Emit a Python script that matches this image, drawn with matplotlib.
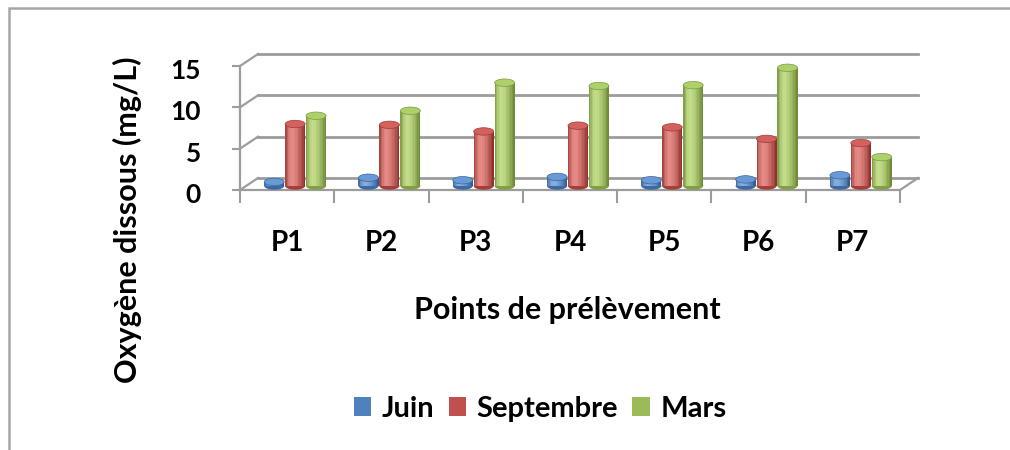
import matplotlib
matplotlib.use('Agg')
import matplotlib.pyplot as plt
import matplotlib.transforms as mtrans
from matplotlib.patches import Ellipse, Patch, Rectangle
from matplotlib.lines import Line2D
import numpy as np

categories = ['P1', 'P2', 'P3', 'P4', 'P5', 'P6', 'P7']
series_names = ['Juin', 'Septembre', 'Mars']
juin = [0.5, 1.0, 0.7, 1.1, 0.7, 0.8, 1.3]
septembre = [7.5, 7.4, 6.6, 7.3, 7.1, 5.7, 5.2]
mars = [8.5, 9.1, 12.5, 12.1, 12.2, 14.3, 3.5]
y_ticks = [0, 5, 10, 15]
x_label = 'Points de prélèvement'
y_label = 'Oxygène dissous (mg/L)'

series = [juin, septembre, mars]
base_colors = ['#4F81BD', '#C0504D', '#9BBB59']
dark_colors = ['#2a5488', '#8a2a27', '#67842f']
light_colors = ['#86aee0', '#e58a86', '#c3dc8a']
top_colors = ['#6a9ad6', '#d3615d', '#add06b']

FONT = ['Lato', 'DejaVu Sans']
plt.rcParams['font.family'] = FONT
plt.rcParams['font.weight'] = 'bold'

W, H = 1010, 450
fig = plt.figure(figsize=(W / 100, H / 100), dpi=100)
fig.patch.set_facecolor('white')

# outer chart border (only left and top visible)
fig.patches.append(Rectangle((9 / W, -0.2), 1.2, 1.2 - 8 / H, transform=fig.transFigure,
                             fill=False, edgecolor='#a6a6a6', linewidth=1.8))

ax = fig.add_axes([240 / W, 260 / H, 660 / W, 124 / H])
ax.set_xlim(-0.5, len(categories) - 0.5)
ax.set_ylim(0, 15)
ax.patch.set_visible(False)

grid_col = '#9c9c9c'
for s in ['top', 'right']:
    ax.spines[s].set_visible(False)
for s in ['left', 'bottom']:
    ax.spines[s].set_color(grid_col)
    ax.spines[s].set_linewidth(1.6)

back = mtrans.offset_copy(ax.transData, fig=fig, x=18, y=12, units='dots')
mid = mtrans.offset_copy(ax.transData, fig=fig, x=8, y=4, units='dots')

x0, x1 = -0.5, len(categories) - 0.5
# back wall gridlines
for yv in y_ticks:
    ax.plot([x0, x1], [yv, yv], color=grid_col, lw=2.0, transform=back, clip_on=False, zorder=1)

# left wall / floor diagonals
def diag(x, y):
    p0 = ax.transData.transform((x, y))
    p1 = back.transform((x, y))
    ax.add_line(Line2D([p0[0], p1[0]], [p0[1], p1[1]], color=grid_col, lw=1.6,
                       transform=mtrans.IdentityTransform(), clip_on=False, zorder=1))

for yv in y_ticks:
    diag(x0, yv)
diag(x1, 0)

# cylinders
n_series = len(series)
bw = 0.212
spacing = 0.222
nslice = 14
ell_h = 0.9

def mix(c1, c2, t):
    a = np.array(matplotlib.colors.to_rgb(c1))
    b = np.array(matplotlib.colors.to_rgb(c2))
    return tuple(a + (b - a) * t)

xs = np.arange(len(categories))
for si, vals in enumerate(series):
    off = (si - (n_series - 1) / 2) * spacing
    for ci, v in enumerate(vals):
        xc = xs[ci] + off
        ax.add_patch(Ellipse((xc, 0), bw, ell_h, transform=mid,
                             facecolor=mix(dark_colors[si], base_colors[si], 0.5),
                             edgecolor='none', clip_on=False, zorder=3))
        edges = np.linspace(xc - bw / 2, xc + bw / 2, nslice + 1)
        centers = (edges[:-1] + edges[1:]) / 2
        for k, xk in enumerate(centers):
            t = (k + 0.5) / nslice
            if t < 0.35:
                f = 1 - ((0.35 - t) / 0.35) ** 2 * 0.85
            else:
                f = 1 - ((t - 0.35) / 0.65) ** 1.6
            col = mix(dark_colors[si], light_colors[si], max(0, min(1, f)))
            ax.bar([xk], [v], width=bw / nslice * 1.05, color=col, linewidth=0,
                   transform=mid, clip_on=False, zorder=4)
        ax.add_patch(Ellipse((xc, v), bw, ell_h, transform=mid, facecolor=top_colors[si],
                             edgecolor=mix(dark_colors[si], base_colors[si], 0.4), linewidth=0.5,
                             clip_on=False, zorder=5))

# ticks and labels
ax.set_yticks(y_ticks)
ax.set_yticklabels([str(t) for t in y_ticks], fontsize=19, fontweight='bold')
ax.tick_params(axis='y', length=6, width=1.5, color=grid_col, pad=22)
for lab in ax.get_yticklabels():
    lab.set_transform(lab.get_transform() + mtrans.ScaledTranslation(0, -3 / 100, fig.dpi_scale_trans))
ax.set_xticks(xs)
ax.set_xticklabels(categories, fontsize=20, fontweight='bold')
ax.tick_params(axis='x', which='major', length=0, pad=29)
ax.set_xticks(np.arange(x0, x1 + 0.01, 1.0), minor=True)
ax.tick_params(axis='x', which='minor', length=9, width=1.5, color=grid_col)

fig.text(567 / W, 1 - 310 / H, x_label, fontsize=22, fontweight='bold', ha='center', va='center')
fig.text(127 / W, 1 - 220 / H, y_label, fontsize=22, fontweight='bold', ha='center', va='center',
         rotation=90)

handles = [Patch(facecolor=c, edgecolor='none') for c in base_colors]
fig.legend(handles, series_names, loc='center', bbox_to_anchor=(540 / W, 1 - 409 / H),
           ncol=3, frameon=False, handlelength=0.6, handleheight=0.6,
           handletextpad=0.35, columnspacing=0.5, prop={'weight': 'bold', 'size': 21})

fig.savefig('out.png', dpi=100)
